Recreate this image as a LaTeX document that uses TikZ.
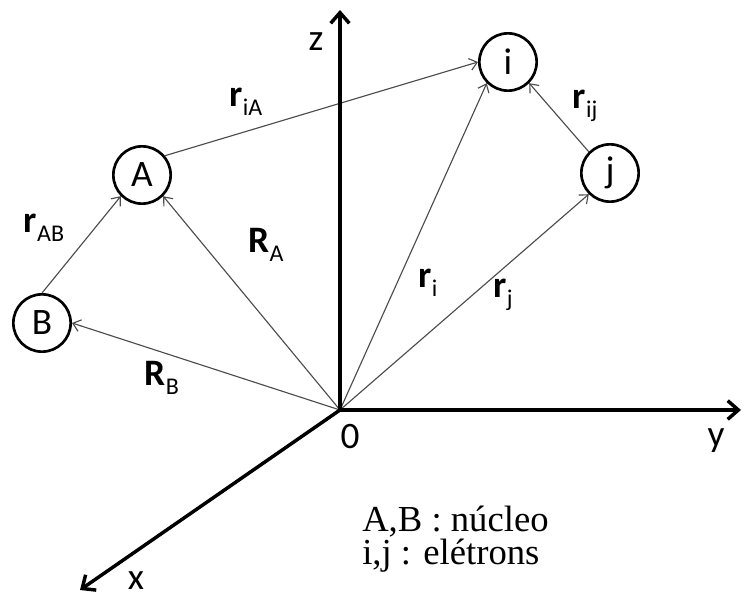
\documentclass[tikz,border=0pt]{standalone}
\usepackage{fontspec}
\setmainfont{Carlito}
\newfontfamily\legendfont{Liberation Serif}
\usetikzlibrary{arrows.meta}
% bold vector letter with a plain subscript
\newcommand\vsub[2]{\textbf{#1}\raisebox{-7pt}{\fontsize{18}{18}\selectfont #2}}

\begin{document}
\begin{tikzpicture}[x=0.75pt,y=0.75pt,yscale=-1,xscale=1,
    font=\fontsize{28}{32}\selectfont,
    axis/.style={line width=2.6pt, -{Straight Barb[length=8pt,width=14pt]}},
    vec/.style={draw=black!70, line width=0.85pt, -{Straight Barb[length=5.5pt,width=9pt]}},
    atom/.style={circle, draw, line width=2pt, minimum size=43pt, inner sep=0pt},
    lbl/.style={inner sep=0pt}]
\useasboundingbox (0,0) rectangle (744,598);

% origin and axis ends
\coordinate (O) at (340,410);
\coordinate (zTip) at (340,10);
\coordinate (yTip) at (741,410);
\coordinate (xTip) at (80,590);

% nuclei and electrons
\node[atom] (A) at (142,175) {A};
\node[atom] (B) at (42,323) {B};
\node[atom] (i) at (508,62) {i};
\node[atom] (j) at (610,173) {j};

% position vectors
\draw[vec] (O) -- (A.south east);
\draw[vec] (O) -- (B.east);
\draw[vec] (O) -- (i.south west);
\draw[vec] (O) -- (j.south west);
\draw[vec] (B.north) -- (A.south west);
\draw[vec] (A.40) -- (i.west);
\draw[vec] (j.north west) -- (i.south east);

% axes
\draw[axis] (O) -- (zTip);
\draw[axis] (O) -- (yTip);
\draw[axis] (O) -- (xTip);

% labels
\node[lbl] (zLab) at (316,42) {z};
\node[lbl] (yLab) at (716,441) {y};
\node[lbl] (xLab) at (136,581) {x};
\node[lbl] (oLab) at (350,437) {0};
\node[lbl] (riA) at (246,102) {\vsub{r}{iA}};
\node[lbl] (rAB) at (44,228) {\vsub{r}{AB}};
\node[lbl] (RA) at (266,245) {\vsub{R}{A}};
\node[lbl] (RB) at (162,378) {\vsub{R}{B}};
\node[lbl] (ri) at (428,283) {\vsub{r}{i}};
\node[lbl] (rj) at (503,295) {\vsub{r}{j}};
\node[lbl] (rij) at (585,106) {\vsub{r}{ij}};

% legend
\node[lbl, anchor=base west, font=\legendfont\fontsize{27.5}{30}\selectfont] (legNuc) at (362,532) {A,B : núcleo};
\node[lbl, anchor=base west, font=\legendfont\fontsize{27.5}{30}\selectfont] (legEl) at (362,565) {i,j : elétrons};
\end{tikzpicture}
\end{document}
